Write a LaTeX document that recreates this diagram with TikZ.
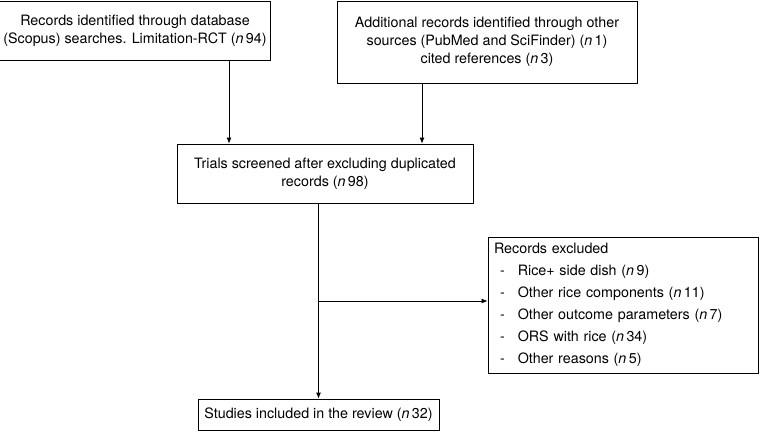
\documentclass[tikz,border=0pt]{standalone}
\usepackage{fontspec}
\setmainfont{TeX Gyre Heros}
\usepackage{tikz}
\usetikzlibrary{arrows.meta}
\newcommand{\nn}[1]{(\textit{n}\,#1)}

\begin{document}
\begin{tikzpicture}[x=1pt,y=-1pt,thick]
    %
    % `record' is used for every box of the flow chart.
    % `flow' is used for the arrows between the boxes.
    \tikzstyle{record} = [draw,line width=0.8pt,inner sep=4pt,align=center,
        font=\fontsize{14.3}{18}\selectfont]
    \tikzstyle{flow} = [line width=0.8pt,-{Latex[length=6pt,width=5pt]}]
    \useasboundingbox (0,0) rectangle (760,432);
    %
    % Sources
    \node[record,minimum width=268,minimum height=59] (scopus) at (135,30.5)
        {Records identified through database\\(Scopus) searches. Limitation-RCT \nn{94}};
    \node[record,minimum width=300,minimum height=82] (other) at (487,42)
        {Additional records identified through other\\sources (PubMed and SciFinder) \nn{1}\\cited references \nn{3}};
    %
    % Screening
    \node[record,minimum width=296,minimum height=59] (screen) at (325,173.5)
        {Trials screened after excluding duplicated\\records \nn{98}};
    %
    % Excluded
    \node[record,minimum width=270,minimum height=134,align=left,text width=258,inner sep=6pt] (excl) at (623,305)
        {Records excluded\\[4.5pt]
         \hspace*{6pt}-\hspace{13pt}Rice+ side dish \nn{9}\\[4pt]
         \hspace*{6pt}-\hspace{13pt}Other rice components \nn{11}\\[4pt]
         \hspace*{6pt}-\hspace{13pt}Other outcome parameters \nn{7}\\[4pt]
         \hspace*{6pt}-\hspace{13pt}ORS with rice \nn{34}\\[4pt]
         \hspace*{6pt}-\hspace{13pt}Other reasons \nn{5}};
    %
    % Included
    \node[record,minimum width=241,minimum height=31] (incl) at (318.5,414.5)
        {Studies included in the review \nn{32}};
    %
    % Arrows
    \coordinate (left) at (229,0);
    \coordinate (right) at (422,0);
    \coordinate (branch) at (318.5,301);
    \draw[flow] (scopus.south -| left) -- (screen.north -| left);
    \draw[flow] (other.south -| right) -- (screen.north -| right);
    \draw[flow] (screen.south -| incl.north) -- (incl.north);
    \draw[flow] (branch) -- (branch -| excl.west);
    %
\end{tikzpicture}
\end{document}
